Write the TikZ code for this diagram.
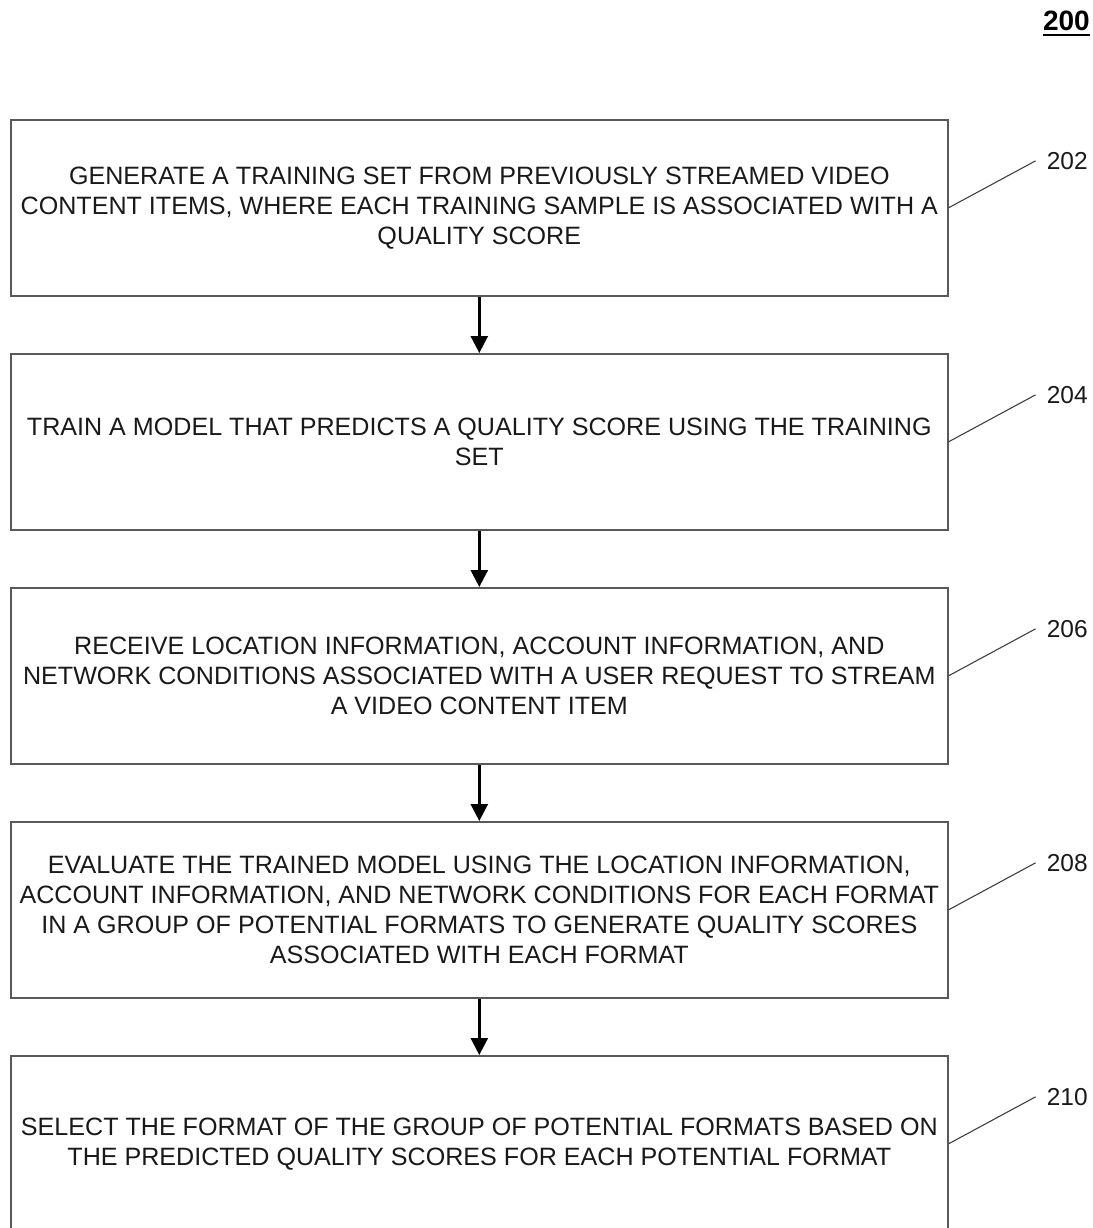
\documentclass[tikz,border=0pt]{standalone}
\usepackage{fontspec}
\setmainfont{Liberation Sans}
\usetikzlibrary{arrows.meta}
\begin{document}
\begin{tikzpicture}[x=1pt,y=-1pt,
  stepbox/.style={draw=black!65,line width=1.6pt,minimum width=937pt,minimum height=176pt,inner sep=0pt,
    align=center,font=\fontsize{25.1}{30}\selectfont,text=black!90,anchor=north west},
  flow/.style={line width=2.6pt,-{Triangle[length=17pt,width=17pt]}},
  leader/.style={draw=black!75,line width=1.1pt},
  reflabel/.style={font=\fontsize{24.5}{28}\selectfont,text=black!90,anchor=west,inner sep=0pt}]
\useasboundingbox (0,0) rectangle (1092,1228);
\node[font=\fontsize{28}{30}\selectfont\bfseries,anchor=north east,inner sep=0pt] (fig) at (1090,11) {200};
\draw[line width=2.4pt] ([yshift=-4pt]fig.south west) -- ([yshift=-4pt]fig.south east);
\node[stepbox] (b1) at (10,119) {GENERATE A TRAINING SET FROM PREVIOUSLY STREAMED VIDEO\\CONTENT ITEMS, WHERE EACH TRAINING SAMPLE IS ASSOCIATED WITH A\\QUALITY SCORE};
\node[stepbox] (b2) at (10,353) {TRAIN A MODEL THAT PREDICTS A QUALITY SCORE USING THE TRAINING\\SET};
\node[stepbox] (b3) at (10,587) {RECEIVE LOCATION INFORMATION, ACCOUNT INFORMATION, AND\\NETWORK CONDITIONS ASSOCIATED WITH A USER REQUEST TO STREAM\\A VIDEO CONTENT ITEM};
\node[stepbox] (b4) at (10,821) {EVALUATE THE TRAINED MODEL USING THE LOCATION INFORMATION,\\ACCOUNT INFORMATION, AND NETWORK CONDITIONS FOR EACH FORMAT\\IN A GROUP OF POTENTIAL FORMATS TO GENERATE QUALITY SCORES\\ASSOCIATED WITH EACH FORMAT};
\node[stepbox] (b5) at (10,1055) {SELECT THE FORMAT OF THE GROUP OF POTENTIAL FORMATS BASED ON\\THE PREDICTED QUALITY SCORES FOR EACH POTENTIAL FORMAT};
\foreach \a/\b in {b1/b2,b2/b3,b3/b4,b4/b5}{
  \draw[flow] (\a.south) -- (\b.north);
}
\foreach \n/\t in {b1/202,b2/204,b3/206,b4/208,b5/210}{
  \coordinate (e\t) at ([xshift=87pt,yshift=47pt]\n.east);
  \node[reflabel] (l\t) at ([xshift=11pt]e\t) {\t};
  \draw[leader] (\n.east) -- (e\t);
}
\end{tikzpicture}
\end{document}
